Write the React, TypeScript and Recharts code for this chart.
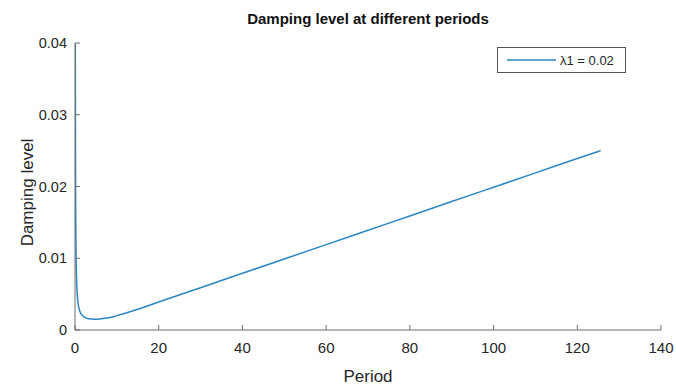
import React from "react";
import { LineChart, Line, XAxis, YAxis } from "recharts";

// Damping ratio versus structural period
const periods = [
  0.07, 0.1, 0.15, 0.2, 0.3, 0.4, 0.5, 0.7, 1, 1.5, 2, 2.5, 3, 4, 5, 6, 8, 10, 15,
  20, 30, 40, 50, 60, 70, 80, 90, 100, 110, 120, 125.6,
];
const damping = [
  0.04, 0.028, 0.0185, 0.0138, 0.0088, 0.0066, 0.0053, 0.0039, 0.0029, 0.0022,
  0.0019, 0.0017, 0.0016, 0.00152, 0.0015, 0.00155, 0.0017, 0.002, 0.0029, 0.0039,
  0.0059, 0.0079, 0.0099, 0.0119, 0.0139, 0.0159, 0.0179, 0.0199, 0.0219, 0.0239,
  0.025,
];
const xTicks = [0, 20, 40, 60, 80, 100, 120, 140];
const yTicks = [0, 0.01, 0.02, 0.03, 0.04];
const seriesName = "λ1 = 0.02";

const data = periods.map((p, i) => ({ period: p, damping: damping[i] }));

const FONT = "'Liberation Sans', Arial, Helvetica, sans-serif";
const AXIS = "#6f6f6f";
const TEXT = "#262626";
const LINE = "#2b86c2";

const XTick = (props: any) => {
  const { x, y, payload } = props;
  return (
    <g>
      <line x1={x} x2={x} y1={y} y2={y - 5} stroke={AXIS} strokeWidth={1} />
      <text x={x} y={y + 23} textAnchor="middle" fontSize={15} fill={TEXT} fontFamily={FONT}>
        {String(payload.value)}
      </text>
    </g>
  );
};

const YTick = (props: any) => {
  const { x, y, payload } = props;
  return (
    <g>
      <line x1={x} x2={x + 5} y1={y} y2={y} stroke={AXIS} strokeWidth={1} />
      <text x={x - 8} y={y + 5} textAnchor="end" fontSize={14.5} fill={TEXT} fontFamily={FONT}>
        {String(payload.value)}
      </text>
    </g>
  );
};

// Boxed legend in the upper-right corner of the plot
const LegendBox = () => (
  <g fontFamily={FONT}>
    <rect x={497.5} y={47.5} width={128} height={25} fill="#fff" stroke="#555" strokeWidth={1} />
    <line x1={507} x2={556} y1={60} y2={60} stroke={LINE} strokeWidth={1.5} />
    <text x={560} y={65} fontSize={13} fill={TEXT}>
      {seriesName}
    </text>
  </g>
);

export default function App() {
  return (
    <div style={{ position: "absolute", left: 0, top: 0, background: "#fff" }}>
      <LineChart
        width={676}
        height={385}
        data={data}
        margin={{ top: 43, right: 15, bottom: 0, left: 0 }}
      >
        <text
          x={368}
          y={24}
          textAnchor="middle"
          fontSize={15}
          fontWeight="bold"
          fill="#111"
          fontFamily={FONT}
        >
          Damping level at different periods
        </text>
        <XAxis
          dataKey="period"
          type="number"
          domain={[0, 140]}
          ticks={xTicks}
          allowDataOverflow
          height={55}
          tickSize={0}
          tickMargin={0}
          tickLine={false}
          tick={<XTick />}
          axisLine={{ stroke: AXIS, strokeWidth: 1 }}
          label={{
            value: "Period",
            position: "insideBottom",
            offset: 3,
            fontSize: 17,
            fill: TEXT,
            fontFamily: FONT,
          }}
        />
        <YAxis
          type="number"
          domain={[0, 0.04]}
          ticks={yTicks}
          allowDataOverflow
          width={75}
          tickSize={0}
          tickMargin={0}
          tickLine={false}
          tick={<YTick />}
          axisLine={{ stroke: AXIS, strokeWidth: 1 }}
          label={{
            value: "Damping level",
            angle: -90,
            position: "insideLeft",
            offset: 27,
            dy: 6,
            style: { textAnchor: "middle" },
            fontSize: 17,
            fill: TEXT,
            fontFamily: FONT,
          }}
        />
        <Line
          dataKey="damping"
          name={seriesName}
          stroke={LINE}
          strokeWidth={1.5}
          dot={false}
          type="monotone"
          isAnimationActive={false}
        />
        <LegendBox />
      </LineChart>
    </div>
  );
}
